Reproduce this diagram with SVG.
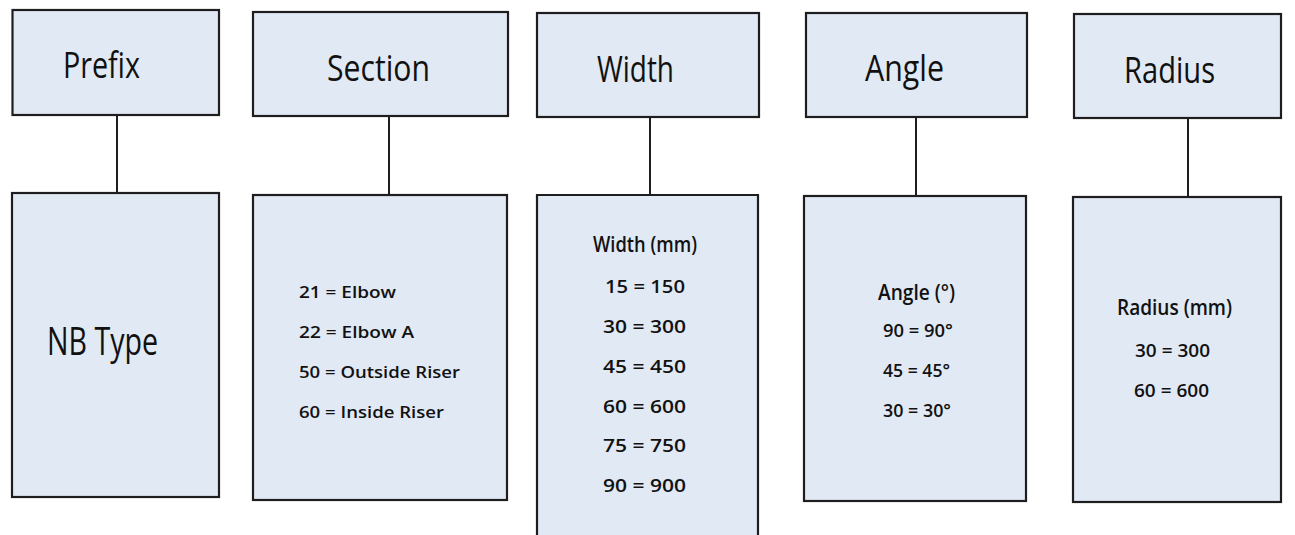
<svg xmlns="http://www.w3.org/2000/svg" width="1295" height="535" viewBox="0 0 1295 535">
<style>
.box{fill:#e1e9f5;stroke:#1e1e1e;stroke-width:2.2}
.conn line{stroke:#1e1e1e;stroke-width:2}
text{font-family:"Open Sans","Noto Sans","Liberation Sans",sans-serif;fill:#111}
.t{font-size:37px;font-weight:500}
.big{font-size:38px;font-weight:500}
.h{font-size:21px;font-weight:600}
.v{font-size:18px;font-weight:600}
.s{font-size:17px;font-weight:600}
</style>
<rect width="1295" height="535" fill="#ffffff"/>
<g class="conn" id="connectors">
<line x1="117" y1="115" x2="117" y2="193"/>
<line x1="389" y1="116" x2="389" y2="195"/>
<line x1="650" y1="117" x2="650" y2="195"/>
<line x1="916" y1="117" x2="916" y2="196"/>
<line x1="1188" y1="118" x2="1188" y2="197"/>
</g>
<g id="prefix">
<rect class="box" x="12.5" y="10" width="206.5" height="105"/>
<text class="t" x="63" y="78" textLength="77" lengthAdjust="spacingAndGlyphs">Prefix</text>
</g>
<g id="section">
<rect class="box" x="253" y="12" width="255" height="104"/>
<text class="t" x="327" y="81" textLength="103" lengthAdjust="spacingAndGlyphs">Section</text>
</g>
<g id="width">
<rect class="box" x="537" y="13" width="222" height="104"/>
<text class="t" x="597" y="82" textLength="77" lengthAdjust="spacingAndGlyphs">Width</text>
</g>
<g id="angle">
<rect class="box" x="806" y="13" width="221" height="104"/>
<text class="t" x="865" y="81" textLength="79" lengthAdjust="spacingAndGlyphs">Angle</text>
</g>
<g id="radius">
<rect class="box" x="1074" y="14" width="207" height="104"/>
<text class="t" x="1124" y="83" textLength="91" lengthAdjust="spacingAndGlyphs">Radius</text>
</g>
<g id="nbtype">
<rect class="box" x="12" y="193" width="207" height="304"/>
<text class="big" x="47" y="355" textLength="111" lengthAdjust="spacingAndGlyphs">NB Type</text>
</g>
<g id="section-values">
<rect class="box" x="253" y="195" width="254" height="305"/>
<text class="s" x="299" y="298" textLength="97" lengthAdjust="spacingAndGlyphs">21 = Elbow</text>
<text class="s" x="299" y="338" textLength="115" lengthAdjust="spacingAndGlyphs">22 = Elbow A</text>
<text class="s" x="299" y="378" textLength="161" lengthAdjust="spacingAndGlyphs">50 = Outside Riser</text>
<text class="s" x="299" y="418" textLength="145" lengthAdjust="spacingAndGlyphs">60 = Inside Riser</text>
</g>
<g id="width-values">
<path class="box" d="M537 545 V195 H758 V545"/>
<text class="h" x="593" y="252" textLength="104" lengthAdjust="spacingAndGlyphs">Width (mm)</text>
<text class="v" x="605" y="293" textLength="80" lengthAdjust="spacingAndGlyphs">15 = 150</text>
<text class="v" x="603" y="333" textLength="83" lengthAdjust="spacingAndGlyphs">30 = 300</text>
<text class="v" x="603" y="373" textLength="83" lengthAdjust="spacingAndGlyphs">45 = 450</text>
<text class="v" x="603" y="413" textLength="83" lengthAdjust="spacingAndGlyphs">60 = 600</text>
<text class="v" x="603" y="452" textLength="83" lengthAdjust="spacingAndGlyphs">75 = 750</text>
<text class="v" x="603" y="492" textLength="83" lengthAdjust="spacingAndGlyphs">90 = 900</text>
</g>
<g id="angle-values">
<rect class="box" x="804" y="196" width="222" height="305"/>
<text class="h" x="878" y="300" textLength="77" lengthAdjust="spacingAndGlyphs">Angle (°)</text>
<text class="v" x="883" y="337" textLength="70" lengthAdjust="spacingAndGlyphs">90 = 90°</text>
<text class="v" x="883" y="377" textLength="67" lengthAdjust="spacingAndGlyphs">45 = 45°</text>
<text class="v" x="883" y="417" textLength="68" lengthAdjust="spacingAndGlyphs">30 = 30°</text>
</g>
<g id="radius-values">
<rect class="box" x="1073" y="197" width="208" height="305"/>
<text class="h" x="1117" y="315" textLength="115" lengthAdjust="spacingAndGlyphs">Radius (mm)</text>
<text class="v" x="1135" y="357" textLength="75" lengthAdjust="spacingAndGlyphs">30 = 300</text>
<text class="v" x="1134" y="397" textLength="75" lengthAdjust="spacingAndGlyphs">60 = 600</text>
</g>
</svg>
